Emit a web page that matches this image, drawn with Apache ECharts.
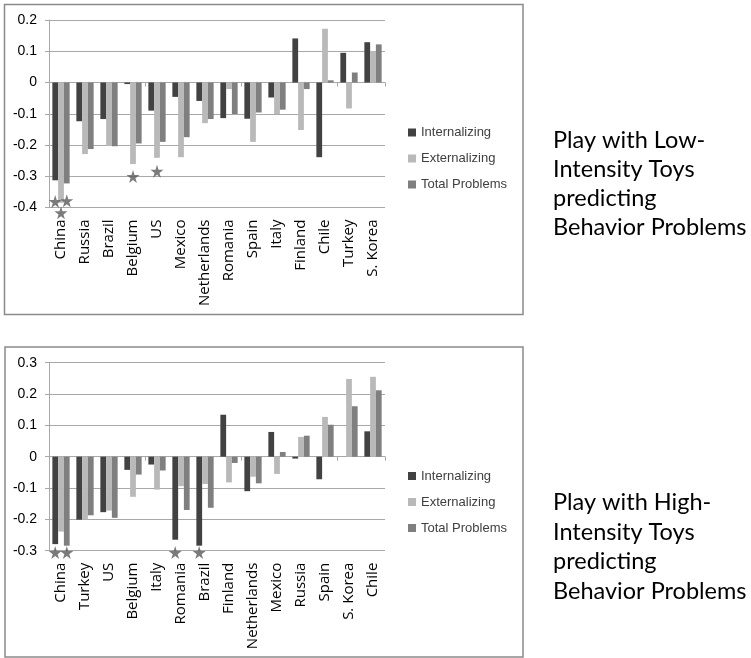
<!DOCTYPE html>
<html><head><meta charset="utf-8">
<script src="https://cdn.jsdelivr.net/npm/echarts@6/dist/echarts.min.js"></script>
<style>html,body{margin:0;padding:0;background:#fff}#c{width:751px;height:658px}</style>
</head><body><div id="c"></div>
<script>
// ---- Data: Low-intensity toys ----
var categoriesLow = ['China','Russia','Brazil','Belgium','US','Mexico','Netherlands','Romania','Spain','Italy','Finland','Chile','Turkey','S. Korea'];
var lowInternalizing = [-0.313,-0.124,-0.117,-0.005,-0.090,-0.046,-0.059,-0.114,-0.116,-0.048,0.141,-0.239,0.095,0.129];
var lowExternalizing = [-0.385,-0.229,-0.203,-0.261,-0.241,-0.239,-0.130,-0.021,-0.190,-0.101,-0.152,0.172,-0.083,0.101];
var lowTotal = [-0.323,-0.213,-0.204,-0.195,-0.190,-0.175,-0.117,-0.101,-0.096,-0.087,-0.021,0.007,0.032,0.122];
var lowStarsInt = [['China',-0.381]];
var lowStarsExt = [['China',-0.417],['Belgium',-0.301],['US',-0.284]];
var lowStarsTot = [['China',-0.378]];
var lowTicks = {min:-0.4, max:0.2, interval:0.1};

// ---- Data: High-intensity toys ----
var categoriesHigh = ['China','Turkey','US','Belgium','Italy','Romania','Brazil','Finland','Netherlands','Mexico','Russia','Spain','S. Korea','Chile'];
var highInternalizing = [-0.279,-0.201,-0.177,-0.042,-0.025,-0.265,-0.284,0.134,-0.110,0.079,-0.006,-0.072,0.0,0.081];
var highExternalizing = [-0.239,-0.201,-0.172,-0.128,-0.105,-0.094,-0.087,-0.082,-0.064,-0.055,0.063,0.127,0.248,0.255];
var highTotal = [-0.284,-0.187,-0.195,-0.057,-0.044,-0.170,-0.163,-0.020,-0.085,0.015,0.067,0.102,0.161,0.212];
var highStarsInt = [['China',-0.306],['Romania',-0.306],['Brazil',-0.306]];
var highStarsTot = [['China',-0.306]];
var highTicks = {min:-0.3, max:0.3, interval:0.1};

var seriesNames = ['Internalizing','Externalizing','Total Problems'];
var titleLow = 'Play with Low-\nIntensity Toys\npredicting\nBehavior Problems';
var titleHigh = 'Play with High-\nIntensity Toys\npredicting\nBehavior Problems';

// ---- Styles ----
var colors = ['#424242','#b9b9b9','#7f7f7f'];
var gridColor = '#a8a8a8';
var starPath = 'path://M50,0 L61,35 L98,35 L68,57 L79,91 L50,70 L21,91 L32,57 L2,35 L39,35 Z';
var barOff = 5.8;

function zeroAxis(gi, cats){
  return {type:'category', gridIndex:gi, data:cats, position:'bottom',
    axisLine:{show:true,onZero:true,lineStyle:{color:gridColor,width:1}},
    axisTick:{show:true,length:4,lineStyle:{color:gridColor}},
    axisLabel:{show:false}, splitLine:{show:false}};
}
function labelAxis(gi, cats){
  return {type:'category', gridIndex:gi, data:cats, position:'bottom',
    axisLine:{show:false,onZero:false}, axisTick:{show:false},
    axisLabel:{rotate:90, margin:12, fontFamily:'Open Sans', fontSize:15, color:'#000', interval:0},
    splitLine:{show:false}};
}
function valAxis(gi, t){
  return {type:'value', gridIndex:gi, min:t.min, max:t.max, interval:t.interval,
    axisLine:{show:true,lineStyle:{color:gridColor}},
    axisTick:{show:true,length:4,lineStyle:{color:gridColor}},
    axisLabel:{fontFamily:'Liberation Sans', fontSize:14, color:'#000', margin:12},
    splitLine:{show:true,lineStyle:{color:gridColor,width:1}}};
}
function bars(xi, yi, arrs){
  return arrs.map(function(a,i){
    return {name:seriesNames[i], type:'bar', xAxisIndex:xi, yAxisIndex:yi, data:a,
      barGap:'0%', barCategoryGap:'28%', itemStyle:{color:colors[i]}, animation:false};
  });
}
function stars(xi, yi, data, off){
  return {type:'scatter', xAxisIndex:xi, yAxisIndex:yi, data:data, clip:false,
    symbol:starPath, symbolSize:13, symbolOffset:[off,0], z:5,
    itemStyle:{color:'#5a5a5a'}, animation:false, silent:true};
}

var chart = echarts.init(document.getElementById('c'), null, {renderer:'canvas'});
var legendCommon = {orient:'vertical', left:408, itemWidth:8, itemHeight:8, itemGap:13,
  icon:'rect', textStyle:{fontFamily:'Liberation Sans', fontSize:13, color:'#404040'}, data:seriesNames, padding:0};
chart.setOption({
  animation:false,
  graphic:[
    {type:'rect', shape:{x:4.5,y:4.5,width:518.5,height:310}, style:{fill:'none',stroke:'#8a8a8a',lineWidth:1.5}, z:-1},
    {type:'rect', shape:{x:5,y:347,width:518,height:310}, style:{fill:'none',stroke:'#8a8a8a',lineWidth:1.5}, z:-1}
  ],
  title:[
    {text:titleLow, left:553, top:126, padding:0, textStyle:{fontFamily:'Lato', fontSize:23.5, fontWeight:'normal', lineHeight:29, color:'#000'}},
    {text:titleHigh, left:553, top:488, padding:0, textStyle:{fontFamily:'Lato', fontSize:23.5, fontWeight:'normal', lineHeight:29.5, color:'#000'}}
  ],
  legend:[
    Object.assign({top:126}, legendCommon),
    Object.assign({top:469.5}, legendCommon)
  ],
  grid:[
    {left:49, top:20, width:336, height:187.5},
    {left:49, top:362.7, width:336, height:188}
  ],
  xAxis:[zeroAxis(0,categoriesLow), labelAxis(0,categoriesLow), zeroAxis(1,categoriesHigh), labelAxis(1,categoriesHigh)],
  yAxis:[valAxis(0,lowTicks), valAxis(1,highTicks)],
  series:[].concat(
    bars(0,0,[lowInternalizing,lowExternalizing,lowTotal]),
    bars(2,1,[highInternalizing,highExternalizing,highTotal]),
    [stars(0,0,lowStarsInt,-barOff), stars(0,0,lowStarsExt,0), stars(0,0,lowStarsTot,barOff),
     stars(2,1,highStarsInt,-barOff), stars(2,1,highStarsTot,barOff)]
  )
});
</script></body></html>
